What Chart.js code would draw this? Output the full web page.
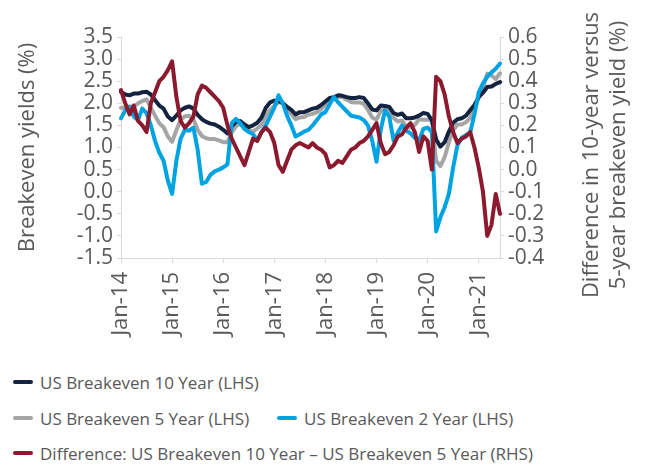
<!DOCTYPE html>
<html>
<head>
<meta charset="utf-8">
<script src="https://cdn.jsdelivr.net/npm/chart.js@4.4.0/dist/chart.umd.min.js"></script>
<style>
  body { margin: 0; background: #fff; font-family: 'Open Sans', sans-serif; }
  #wrap { position: relative; width: 646px; height: 464px; }
  #chart-box { position: absolute; left: 0; top: 0; width: 646px; height: 350px; }
  .legend-item { position: absolute; display: flex; align-items: center; font-size: 17px; color: #595959; white-space: nowrap; }
  .legend-item span.mark { display: inline-block; width: 20px; height: 4px; border-radius: 2px; margin-right: 7px; }
</style>
</head>
<body>
<div id="wrap">
  <div id="chart-box"><canvas id="be-chart"></canvas></div>
  <div id="legend"></div>
</div>
<script>
// months Jan-2014 .. Jun-2021
const gStartYear = 2014;
const gMonthCount = 90;

// US Breakeven 10 Year (LHS), monthly
const gBe10 = [
  2.26, 2.20, 2.18, 2.22, 2.22, 2.25, 2.26, 2.20, 2.07, 1.95, 1.88, 1.70,
  1.62, 1.72, 1.84, 1.90, 1.93, 1.88, 1.74, 1.64, 1.58, 1.54, 1.52, 1.47,
  1.40, 1.32, 1.48, 1.58, 1.60, 1.52, 1.46, 1.50, 1.56, 1.68, 1.90, 2.02,
  2.06, 2.05, 2.00, 1.92, 1.85, 1.75, 1.80, 1.80, 1.84, 1.88, 1.90, 1.96,
  2.04, 2.12, 2.14, 2.18, 2.17, 2.14, 2.12, 2.12, 2.14, 2.12, 2.00, 1.86,
  1.84, 1.95, 1.94, 1.92, 1.78, 1.74, 1.77, 1.66, 1.66, 1.68, 1.72, 1.78,
  1.76, 1.62, 1.18, 1.02, 1.12, 1.36, 1.56, 1.64, 1.66, 1.72, 1.84, 1.96,
  2.14, 2.24, 2.37, 2.38, 2.44, 2.48
];

// US Breakeven 5 Year (LHS)
const gBe5 = [
  1.90, 1.90, 1.93, 1.93, 2.00, 2.05, 2.09, 1.90, 1.72, 1.55, 1.46, 1.25,
  1.13, 1.39, 1.62, 1.71, 1.72, 1.64, 1.40, 1.26, 1.21, 1.19, 1.19, 1.16,
  1.12, 1.12, 1.34, 1.48, 1.54, 1.50, 1.38, 1.36, 1.43, 1.51, 1.71, 1.85,
  1.94, 2.03, 2.01, 1.88, 1.76, 1.64, 1.68, 1.69, 1.74, 1.76, 1.80, 1.87,
  1.97, 2.11, 2.12, 2.14, 2.14, 2.08, 2.03, 2.02, 2.02, 1.99, 1.85, 1.68,
  1.63, 1.83, 1.87, 1.84, 1.67, 1.59, 1.61, 1.47, 1.45, 1.51, 1.64, 1.63,
  1.63, 1.62, 0.70, 0.58, 0.78, 1.12, 1.39, 1.52, 1.52, 1.57, 1.67, 1.86,
  2.13, 2.34, 2.67, 2.63, 2.55, 2.68
];

// US Breakeven 2 Year (LHS)
const gBe2 = [
  1.66, 1.84, 1.92, 1.70, 1.62, 1.88, 1.78, 1.50, 1.15, 0.88, 0.70, 0.25,
  -0.05, 0.70, 1.20, 1.40, 1.38, 1.45, 0.95, 0.18, 0.22, 0.38, 0.46, 0.50,
  0.55, 0.62, 1.55, 1.65, 1.55, 1.42, 1.35, 1.30, 1.16, 1.35, 1.50, 1.70,
  1.90, 2.18, 2.00, 1.72, 1.50, 1.25, 1.30, 1.36, 1.40, 1.50, 1.62, 1.75,
  1.80, 1.98, 2.14, 2.02, 1.92, 1.82, 1.72, 1.70, 1.68, 1.62, 1.50, 1.15,
  0.68, 1.40, 1.84, 1.70, 1.16, 1.34, 1.50, 1.38, 1.32, 1.22, 1.16, 1.42,
  1.45, 1.35, -0.90, -0.58, -0.35, -0.05, 0.55, 1.05, 1.22, 1.28, 1.34, 1.75,
  2.25, 2.45, 2.60, 2.70, 2.78, 2.90
];

// Difference 10Y - 5Y (RHS)
const gDiff = [
  0.36, 0.30, 0.25, 0.29, 0.22, 0.20, 0.17, 0.30, 0.35, 0.40, 0.42, 0.45,
  0.49, 0.33, 0.22, 0.19, 0.21, 0.24, 0.34, 0.38, 0.37, 0.35, 0.33, 0.31,
  0.28, 0.20, 0.14, 0.10, 0.06, 0.02, 0.08, 0.14, 0.13, 0.17, 0.19, 0.17,
  0.12, 0.02, -0.01, 0.04, 0.09, 0.11, 0.12, 0.11, 0.10, 0.12, 0.10, 0.09,
  0.07, 0.01, 0.02, 0.04, 0.03, 0.06, 0.09, 0.10, 0.12, 0.13, 0.15, 0.18,
  0.21, 0.12, 0.07, 0.08, 0.11, 0.15, 0.16, 0.19, 0.21, 0.17, 0.08, 0.15,
  0.13, 0.00, 0.42, 0.40, 0.34, 0.24, 0.17, 0.12, 0.14, 0.15, 0.17, 0.10,
  0.01, -0.10, -0.30, -0.25, -0.11, -0.20
];

const gMonthNames = ['Jan', 'Feb', 'Mar', 'Apr', 'May', 'Jun', 'Jul', 'Aug', 'Sep', 'Oct', 'Nov', 'Dec'];

const gColors = {
  be10: '#14233f',
  be5: '#a5a5a5',
  be2: '#00a3e1',
  diff: '#8c1a2e',
};

const gTextColor = '#595959';
const gAxisColor = '#d9d9d9';

// build month labels
function buildLabels() {
  let vLabels = [];
  for (let i = 0; i < gMonthCount; i++) {
    let vYear = gStartYear + Math.floor(i / 12);
    vLabels.push(gMonthNames[i % 12] + '-' + String(vYear).slice(2));
  }
  return vLabels;
}

function fmt1(v) {
  if (Math.abs(v) < 1e-9) return '0.0';
  return v.toFixed(1);
}

// right axis title, reads bottom to top like the left one
const rightTitlePlugin = {
  id: 'rightTitle',
  afterDraw(chart) {
    const ctx = chart.ctx;
    ctx.save();
    ctx.fillStyle = gTextColor;
    ctx.font = "22px 'Open Sans'";
    ctx.textAlign = 'center';
    ctx.textBaseline = 'middle';
    const lines = ['Difference in 10-year versus', '5-year breakeven yield (%)'];
    const xs = [592, 619];
    lines.forEach((t, i) => {
      ctx.save();
      ctx.translate(xs[i], 155);
      ctx.rotate(-Math.PI / 2);
      ctx.fillText(t, 0, 0);
      ctx.restore();
    });
    ctx.restore();
  },
};

Chart.defaults.font.family = "'Open Sans'";
Chart.defaults.color = gTextColor;

const gLabels = buildLabels();

const gDatasets = [
  { label: 'Difference: US Breakeven 10 Year \u2013 US Breakeven 5 Year (RHS)', data: gDiff, color: gColors.diff, yAxisID: 'y1', order: 0 },
  { label: 'US Breakeven 2 Year (LHS)', data: gBe2, color: gColors.be2, yAxisID: 'y', order: 1 },
  { label: 'US Breakeven 10 Year (LHS)', data: gBe10, color: gColors.be10, yAxisID: 'y', order: 2 },
  { label: 'US Breakeven 5 Year (LHS)', data: gBe5, color: gColors.be5, yAxisID: 'y', order: 3 },
];

new Chart(document.getElementById('be-chart'), {
  type: 'line',
  data: {
    labels: gLabels,
    datasets: gDatasets.map((d) => ({
      label: d.label,
      data: d.data,
      yAxisID: d.yAxisID,
      order: d.order,
      borderColor: d.color,
      backgroundColor: d.color,
      borderWidth: 4,
      pointRadius: 0,
      tension: 0,
      borderJoinStyle: 'round',
      borderCapStyle: 'round',
    })),
  },
  options: {
    responsive: true,
    maintainAspectRatio: false,
    animation: false,
    layout: { padding: { top: 37, left: 0, right: 0, bottom: 0 } },
    plugins: {
      legend: { display: false },
      tooltip: { enabled: false },
    },
    scales: {
      x: {
        type: 'category',
        offset: false,
        afterFit: (s) => { s.height = 92; },
        border: { display: true, color: gAxisColor, width: 1 },
        grid: { drawOnChartArea: false, drawTicks: true, tickLength: 5, color: gAxisColor },
        ticks: {
          autoSkip: false,
          minRotation: 90,
          maxRotation: 90,
          padding: 9,
          font: { size: 22 },
          color: gTextColor,
          callback: function (v, i) {
            return i % 12 === 0 ? gLabels[i] : null;
          },
        },
      },
      y: {
        position: 'left',
        min: -1.5,
        max: 3.5,
        afterFit: (s) => { s.width = 121; },
        border: { display: true, color: gAxisColor, width: 1 },
        grid: { drawOnChartArea: false, drawTicks: true, tickLength: 4, color: gAxisColor },
        ticks: { stepSize: 0.5, autoSkip: false, padding: 4, font: { size: 21 }, color: gTextColor, callback: fmt1 },
        title: {
          display: true,
          text: 'Breakeven yields (%)',
          font: { size: 22 },
          color: gTextColor,
          padding: { top: 15, bottom: 0 },
        },
      },
      y1: {
        position: 'right',
        min: -0.4,
        max: 0.6,
        afterFit: (s) => { s.width = 146; },
        border: { display: true, color: gAxisColor, width: 1 },
        grid: { drawOnChartArea: false, drawTicks: true, tickLength: 4, color: gAxisColor },
        ticks: { stepSize: 0.1, autoSkip: false, padding: 4, font: { size: 21 }, color: gTextColor, callback: fmt1 },
      },
    },
  },
  plugins: [rightTitlePlugin],
});

// html legend, same rows as the original
const gLegendRows = [
  { label: 'US Breakeven 10 Year (LHS)', color: gColors.be10, x: 13, y: 382 },
  { label: 'US Breakeven 5 Year (LHS)', color: gColors.be5, x: 13, y: 418 },
  { label: 'US Breakeven 2 Year (LHS)', color: gColors.be2, x: 277, y: 418 },
  { label: 'Difference: US Breakeven 10 Year \u2013 US Breakeven 5 Year (RHS)', color: gColors.diff, x: 13, y: 453 },
];

const vLegend = document.getElementById('legend');
gLegendRows.forEach((r) => {
  let vItem = document.createElement('div');
  vItem.className = 'legend-item';
  vItem.style.left = r.x + 'px';
  vItem.style.top = (r.y - 12) + 'px';
  vItem.style.height = '24px';
  vItem.innerHTML = `<span class="mark" style="background:${r.color}"></span>${r.label}`;
  vLegend.appendChild(vItem);
});
</script>
</body>
</html>
